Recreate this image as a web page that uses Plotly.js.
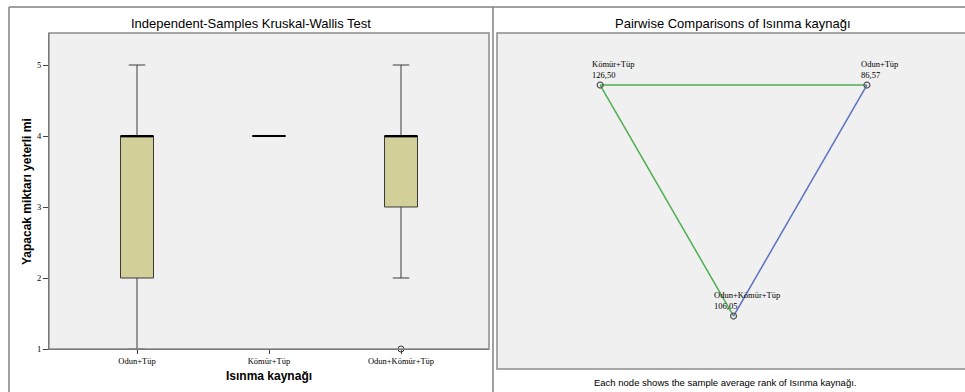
<!DOCTYPE html>
<html>
<head>
<meta charset="utf-8">
<script src="https://cdn.plot.ly/plotly-3.0.1.min.js"></script>
<style>
  html, body { margin: 0; padding: 0; background: #fff; }
  #chart { width: 965px; height: 392px; }
</style>
</head>
<body>
<div id="chart"></div>
<script>
// categories (heating source)
var categories = ['Odun+Tüp', 'Kömür+Tüp', 'Odun+Kömür+Tüp'];

// box statistics for "Yapacak miktarı yeterli mi"
var lowerWhisker = [1, 4, 2];
var q1Values     = [2, 4, 3];
var medians      = [4, 4, 4];
var q3Values     = [4, 4, 4];
var upperWhisker = [5, 4, 5];
var outlierCat   = [2];
var outlierVal   = [1];

// pairwise comparisons: mean ranks and the pairs drawn
var meanRanks = [86.57, 126.50, 106.05];
var pairs = [[1, 0], [1, 2], [0, 2]];
var pairColors = ['#4caf50', '#4caf50', '#5b72c4'];

var W = 965, H = 392;
function px(x) { return x / W; }
function py(y) { return 1 - y / H; }

var data = [];
var boxW = 0.25;

// boxes
categories.forEach(function (c, i) {
  data.push({
    type: 'box',
    x: [i],
    q1: [q1Values[i]],
    median: [medians[i]],
    q3: [q3Values[i]],
    lowerfence: [lowerWhisker[i]],
    upperfence: [upperWhisker[i]],
    width: boxW,
    whiskerwidth: 0.5,
    fillcolor: '#d3cf98',
    line: {color: '#3a3a3a', width: 1},
    boxpoints: false,
    hoverinfo: 'skip',
    showlegend: false,
    xaxis: 'x', yaxis: 'y'
  });
  // thick median line
  data.push({
    type: 'scatter', mode: 'lines',
    x: [i - boxW / 2, i + boxW / 2],
    y: [medians[i], medians[i]],
    line: {color: '#000000', width: 2},
    hoverinfo: 'skip', showlegend: false,
    xaxis: 'x', yaxis: 'y'
  });
});

// outlier
data.push({
  type: 'scatter', mode: 'markers',
  x: outlierCat, y: outlierVal,
  marker: {symbol: 'circle-open', size: 6, color: '#333333', line: {width: 1}},
  cliponaxis: false, hoverinfo: 'skip', showlegend: false,
  xaxis: 'x', yaxis: 'y'
});

// network layout: nodes on a triangle
var nodeX = categories.map(function (c, i) { return Math.cos((30 + 120 * i) * Math.PI / 180); });
var nodeY = categories.map(function (c, i) { return Math.sin((30 + 120 * i) * Math.PI / 180); });

pairs.forEach(function (p, k) {
  data.push({
    type: 'scatter', mode: 'lines',
    x: [nodeX[p[0]], nodeX[p[1]]],
    y: [nodeY[p[0]], nodeY[p[1]]],
    line: {color: pairColors[k], width: 1.5},
    hoverinfo: 'skip', showlegend: false,
    xaxis: 'x2', yaxis: 'y2'
  });
});

data.push({
  type: 'scatter', mode: 'markers',
  x: nodeX, y: nodeY,
  marker: {symbol: 'circle-open', size: 6, color: '#555555', line: {width: 1.2}},
  hoverinfo: 'skip', showlegend: false, cliponaxis: false,
  xaxis: 'x2', yaxis: 'y2'
});

var serif = {family: 'Liberation Serif, Times New Roman, serif', size: 8.5, color: '#000'};
var sans = 'Liberation Sans, Arial, sans-serif';

var annotations = [
  {text: 'Independent-Samples Kruskal-Wallis Test', xref: 'paper', yref: 'paper',
   x: px(251), y: py(24), xanchor: 'center', yanchor: 'middle', showarrow: false,
   font: {family: sans, size: 13, color: '#000'}},
  {text: 'Pairwise Comparisons of Isınma kaynağı', xref: 'paper', yref: 'paper',
   x: px(733), y: py(24), xanchor: 'center', yanchor: 'middle', showarrow: false,
   font: {family: sans, size: 13, color: '#000'}},
  {text: 'Each node shows the sample average rank of Isınma kaynağı.', xref: 'paper', yref: 'paper',
   x: px(725), y: py(382), xanchor: 'center', yanchor: 'middle', showarrow: false,
   font: {family: sans, size: 9.5, color: '#000'}},
  {text: '<b>Yapacak miktarı yeterli mi</b>', xref: 'paper', yref: 'paper',
   x: px(27), y: py(192), xanchor: 'center', yanchor: 'middle', textangle: -90, showarrow: false,
   font: {family: sans, size: 12, color: '#000'}},
  {text: '<b>Isınma kaynağı</b>', xref: 'paper', yref: 'paper',
   x: px(269), y: py(376), xanchor: 'center', yanchor: 'middle', showarrow: false,
   font: {family: sans, size: 12, color: '#000'}}
];

categories.forEach(function (c, i) {
  annotations.push({
    text: c + '<br>' + meanRanks[i].toFixed(2).replace('.', ','),
    xref: 'x2', yref: 'y2', x: nodeX[i], y: nodeY[i],
    xanchor: 'center', yanchor: 'bottom', align: 'left',
    xshift: 13, yshift: 3, showarrow: false,
    font: serif
  });
});

var frame = {color: '#808080', width: 1.5};
var shapes = [
  {type: 'line', xref: 'paper', yref: 'paper', x0: px(9), x1: 1, y0: py(7), y1: py(7), line: frame},
  {type: 'line', xref: 'paper', yref: 'paper', x0: px(9), x1: px(9), y0: py(7), y1: 0, line: frame},
  {type: 'line', xref: 'paper', yref: 'paper', x0: px(493), x1: px(493), y0: py(7), y1: 0, line: frame},
  {type: 'rect', xref: 'paper', yref: 'paper', x0: px(49), x1: px(489), y0: py(349), y1: py(33),
   line: {color: '#8c8c8c', width: 1.5}, layer: 'above'},
  {type: 'rect', xref: 'paper', yref: 'paper', x0: px(497), x1: px(975), y0: py(369), y1: py(33),
   line: {color: '#8c8c8c', width: 1.5}, layer: 'above'}
];

var layout = {
  width: W, height: H, autosize: false,
  margin: {l: 0, r: 0, t: 0, b: 0, pad: 0},
  paper_bgcolor: '#ffffff',
  plot_bgcolor: '#f0f0f0',
  showlegend: false,
  font: {family: sans},
  xaxis: {
    domain: [px(49), px(489)], range: [-2 / 3, 8 / 3],
    tickvals: [0, 1, 2], ticktext: categories,
    ticks: 'outside', ticklen: 4, tickcolor: '#444',
    showline: true, linecolor: '#444', linewidth: 1,
    showgrid: false, zeroline: false, tickfont: serif,
    fixedrange: true
  },
  yaxis: {
    domain: [py(349), py(33)], range: [1, 5 + 32 / 71],
    tickvals: [1, 2, 3, 4, 5],
    ticks: 'outside', ticklen: 5, tickcolor: '#444',
    showline: true, linecolor: '#444', linewidth: 1,
    showgrid: false, zeroline: false, tickfont: serif,
    fixedrange: true
  },
  xaxis2: {
    domain: [px(497), 1], range: [-1.536, 1.503],
    showgrid: false, zeroline: false, showticklabels: false, ticks: '', showline: false,
    anchor: 'y2', fixedrange: true
  },
  yaxis2: {
    domain: [py(369), py(33)], range: [-1.344, 0.838],
    showgrid: false, zeroline: false, showticklabels: false, ticks: '', showline: false,
    anchor: 'x2', fixedrange: true
  },
  annotations: annotations,
  shapes: shapes
};

Plotly.newPlot('chart', data, layout, {displayModeBar: false, staticPlot: true});
</script>
</body>
</html>
